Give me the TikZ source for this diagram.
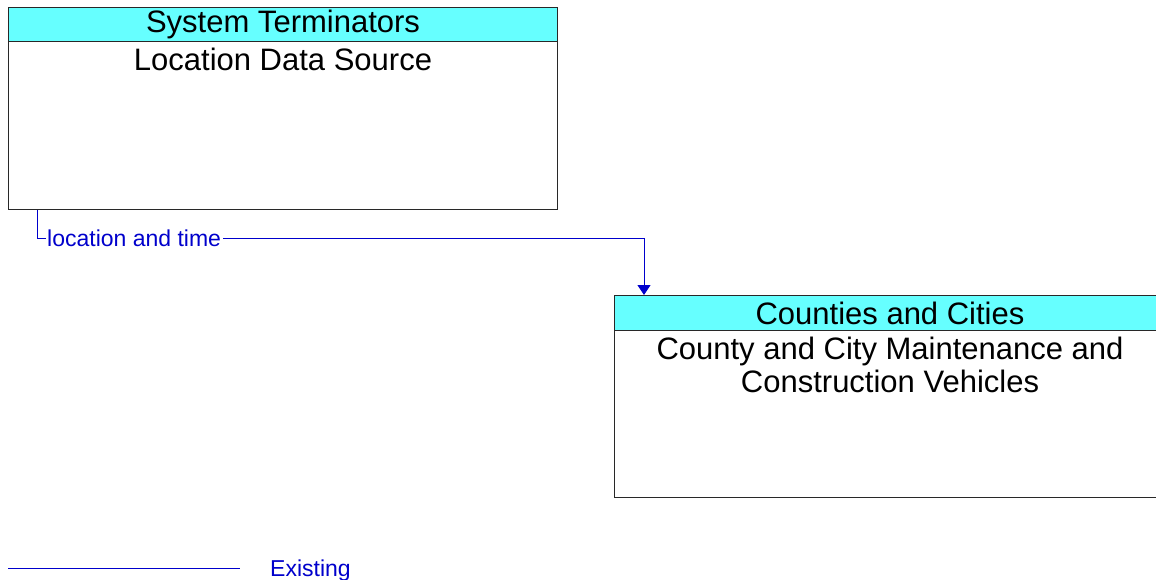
\documentclass[tikz,border=0pt]{standalone}
\usepackage{fontspec}
\setmainfont{Liberation Sans}
\usetikzlibrary{arrows.meta}
\definecolor{headcyan}{RGB}{102,255,255}
\definecolor{flowblue}{RGB}{0,0,204}
\definecolor{edgegray}{RGB}{40,40,40}
\begin{document}
\begin{tikzpicture}[x=1pt,y=-1pt,
  hdr/.style={draw=edgegray, fill=headcyan, line width=1pt, inner sep=0pt,
    anchor=north west, font=\fontsize{31}{33}\selectfont},
  bodybox/.style={draw=edgegray, fill=white, line width=1pt, inner sep=0pt, anchor=north west},
  bodytext/.style={anchor=north, align=center, inner sep=0pt,
    font=\fontsize{31}{33}\selectfont},
  flow/.style={draw=flowblue, line width=0.8pt, -{Triangle[length=10pt,width=13pt]}},
  flowlabel/.style={text=flowblue, fill=white, inner xsep=1.5pt, inner ysep=1pt,
    font=\fontsize{23}{26}\selectfont},
  legendline/.style={draw=flowblue, line width=1pt}]
\useasboundingbox (0,0) rectangle (1156,580);
\clip (0,0) rectangle (1156,580);
\fill[white] (0,0) rectangle (1156,580);

% Location Data Source terminator
\node[bodybox, minimum width=549pt, minimum height=168pt] (lds) at (8,41) {};
\node[hdr, minimum width=549pt, minimum height=34pt] (ldsHead) at (8,7) {System Terminators};
\node[bodytext] (ldsName) at ([yshift=-7pt]lds.north) {Location Data Source};

% County and city vehicles
\node[bodybox, minimum width=551pt, minimum height=167pt] (ccv) at (614,330) {};
\node[hdr, minimum width=551pt, minimum height=35pt] (ccvHead) at (614,295) {Counties and Cities};
\node[bodytext] (ccvName) at ([yshift=-7pt]ccv.north) {County and City Maintenance and\\Construction Vehicles};

% information flow
\draw[flow] ([xshift=29pt]lds.south west) |- ([xshift=30pt,yshift=57pt]ccvHead.north west)
  -- ([xshift=30pt]ccvHead.north west);
\node[flowlabel, anchor=west] (flowLbl) at (45.5,238) {location and time};

% legend
\coordinate (legA) at (8,568);
\coordinate (legB) at (240,568);
\draw[legendline] (legA) -- (legB);
\node[text=flowblue, anchor=west, inner sep=0pt, font=\fontsize{23}{26}\selectfont] (legText) at (270,571) {Existing};
\end{tikzpicture}
\end{document}
